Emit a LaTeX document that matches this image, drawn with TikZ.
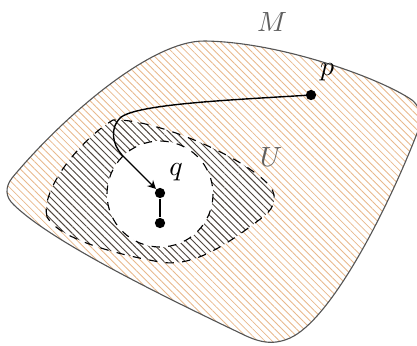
\documentclass[tikz,border=0pt]{standalone}
\usetikzlibrary{patterns.meta,arrows.meta}
\definecolor{morange}{RGB}{232,184,140}
\definecolor{udark}{RGB}{80,70,62}
\definecolor{edgegray}{RGB}{85,85,85}
\definecolor{labgray}{RGB}{95,95,95}
\tikzset{
  dot/.style={circle,fill=black,inner sep=0pt,minimum size=3.7pt},
  lab/.style={inner sep=0pt,text=labgray},
  blab/.style={inner sep=0pt},
}
\begin{document}
\begin{tikzpicture}[x=0.36pt,y=-0.36pt]
\useasboundingbox (0,0) rectangle (417,345);
\clip (0,0) rectangle (417,345);
% manifold M
\path[pattern={Lines[angle=-45,distance=1.85pt,line width=0.3pt]},pattern color=morange,draw=edgegray,line width=0.4pt]
  (12,178) .. controls (60,120) and (150,40) .. (205,41)
  .. controls (280,42) and (380,78) .. (412,100)
  .. controls (424,110) and (421,124) .. (416,136)
  .. controls (385,215) and (330,320) .. (290,338)
  .. controls (272,346) and (258,342) .. (240,333)
  .. controls (150,290) and (50,240) .. (14,205)
  .. controls (5,197) and (5,187) .. (12,178) -- cycle;
% region U
\path[fill=white]
  (47,217) .. controls (40,190) and (80,140) .. (113,120)
  .. controls (150,118) and (235,152) .. (266,182)
  .. controls (278,193) and (277,206) .. (263,217)
  .. controls (230,242) and (195,268) .. (160,262)
  .. controls (120,255) and (60,240) .. (47,217) -- cycle;
\path[pattern={Lines[angle=-45,distance=1.8pt,line width=0.35pt]},pattern color=udark,draw=black,dashed,line width=0.4pt]
  (47,217) .. controls (40,190) and (80,140) .. (113,120)
  .. controls (150,118) and (235,152) .. (266,182)
  .. controls (278,193) and (277,206) .. (263,217)
  .. controls (230,242) and (195,268) .. (160,262)
  .. controls (120,255) and (60,240) .. (47,217) -- cycle;
% white disk
\path[fill=white,draw=black,dashed,line width=0.4pt] (160,194) circle[radius=53];
% nodes
\node[dot] (p) at (311,95) {};
\node[dot] (q) at (160,193) {};
\node[dot] (q2) at (160,223) {};
\node[blab] (pl) at (327,72) {$p$};
\node[blab] (ql) at (176,172) {$q$};
\node[lab] (Ml) at (272,22) {$M$};
\node[lab] (Ul) at (271,157) {$U$};
% connectors
\draw[-{Stealth[length=3pt,width=3pt]},line width=0.5pt] (p.center) .. controls (230,100) and (135,104) .. (120,118)
  .. controls (110,128) and (112,144) .. (122,155) -- (q);
\draw[line width=1pt] (q) -- (q2);
\end{tikzpicture}
\end{document}
